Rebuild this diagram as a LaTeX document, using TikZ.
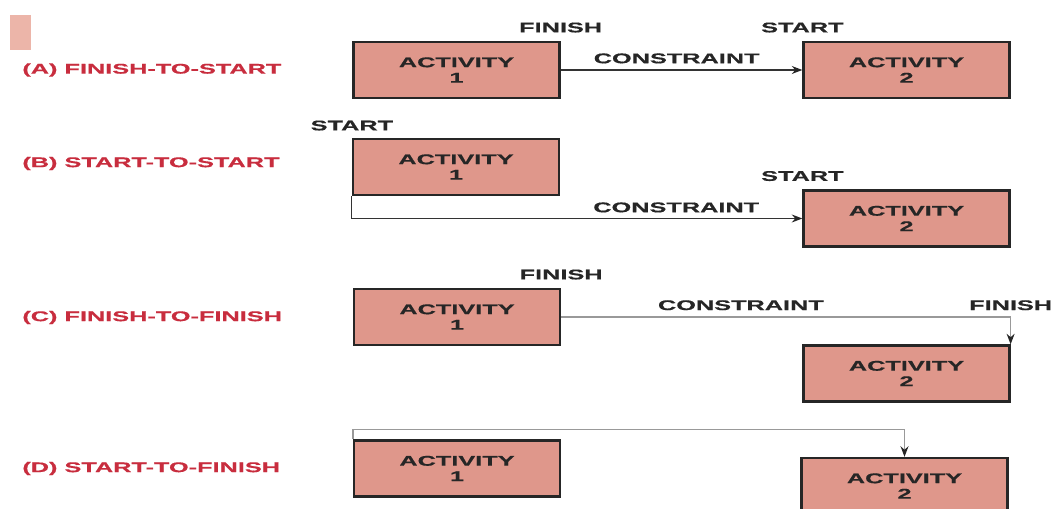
\documentclass[tikz,border=0pt]{standalone}
\usepackage{fontspec}
\newfontfamily\diafont[FakeStretch=1.8,FakeBold=0.6]{Liberation Sans}
\usetikzlibrary{arrows.meta,positioning}
\definecolor{actfill}{RGB}{223,151,139}
\definecolor{tagred}{RGB}{200,45,62}
\definecolor{markpink}{RGB}{236,181,169}

\begin{document}
\begin{tikzpicture}[
    x=0.02cm, y=-0.02cm,
    every node/.style={font=\diafont\bfseries\fontsize{8pt}{8.8pt}\selectfont, inner sep=0pt, text=black!85},
    act/.style={draw=black!85, line width=1.3pt, fill=actfill, minimum width=4.12cm, minimum height=1.12cm, align=center},
    kind/.style={text=tagred, anchor=west},
    link/.style={draw=black!80, line width=0.7pt, -{Stealth[length=6pt,width=4.5pt,black!85]}},
    softlink/.style={link, draw=black!40, line width=0.9pt}
]
\useasboundingbox (0,0) rectangle (1051,509);
\fill[markpink] (10,15) rectangle (31,50);

% relation names
\node[kind] (kindA) at (22,70) {(A) FINISH-TO-START};
\node[kind] (kindB) at (22,163.5) {(B) START-TO-START};
\node[kind] (kindC) at (22,317.5) {(C) FINISH-TO-FINISH};
\node[kind] (kindD) at (22,468.5) {(D) START-TO-FINISH};

% activities
\node[act] (a1) at (456.5,70) {ACTIVITY\\1};
\node[act] (a2) at (906.5,70) {ACTIVITY\\2};
\node[act] (b1) at (456,167) {ACTIVITY\\1};
\node[act] (b2) at (906.5,218.5) {ACTIVITY\\2};
\node[act] (c1) at (457,317) {ACTIVITY\\1};
\node[act] (c2) at (906.5,373.5) {ACTIVITY\\2};
\node[act] (d1) at (457,468.5) {ACTIVITY\\1};
\node[act] (d2) at (904.5,486) {ACTIVITY\\2};

% end point tags
\node[above=0.16cm of a1.north east] (finA) {FINISH};
\node[above=0.16cm of a2.north west] (staA) {START};
\node[above=0.14cm of b1.north west] (staB) {START};
\node[above=0.16cm of b2.north west] (staB2) {START};
\node[above=0.16cm of c1.north east] (finC) {FINISH};

\draw[link] (a1) -- node[pos=0.48, above=0.12cm] (conA) {CONSTRAINT} (a2);
\draw[link] (b1.south west) |- node[pos=0.86, above=0.11cm] (conB) {CONSTRAINT} (b2.west);
\draw[softlink] (c1.east) -| node[pos=0.2, above=0.12cm] (conC) {CONSTRAINT}
    node[pos=0.5, above=0.12cm] (finC2) {FINISH} (c2.north east);
\draw[softlink] (d1.north west) -- ++(0,-10) -| (d2.north);

\end{tikzpicture}
\end{document}
